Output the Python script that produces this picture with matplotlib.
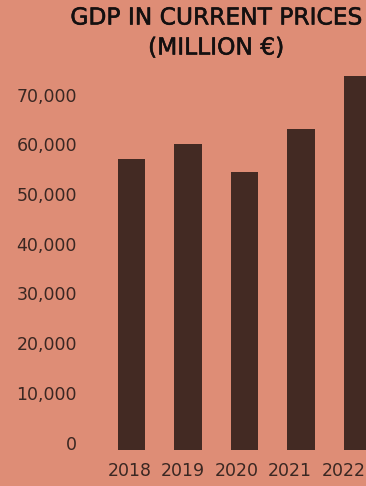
import matplotlib
matplotlib.use("Agg")
import matplotlib.pyplot as plt
import matplotlib.patheffects as pe

years = ["2018", "2019", "2020", "2021", "2022"]
gdp = [58450, 61450, 55850, 64500, 75150]
y_ticks = [0, 10000, 20000, 30000, 40000, 50000, 60000, 70000]

BG = "#de8d76"
BAR = "#432a23"
TXT = "#3a2722"
TITLE = "#141010"

fig = plt.figure(figsize=(3.66, 4.86), dpi=100, facecolor=BG)
ax = fig.add_axes([0.2667, 0.0751, 0.8027, 0.818])
ax.set_facecolor(BG)

x = list(range(len(years)))
ax.bar(x, gdp, width=0.48, color=BAR)

ax.set_xlim(-0.6, 4.6)
ax.set_ylim(0, 80000)
# year labels in the source sit on a slightly tighter spacing than the bars
ax.set_xticks([i * 0.947 - 0.035 for i in x], years)
ax.set_yticks(y_ticks, [f"{v:,}" for v in y_ticks])
for s in ax.spines.values():
    s.set_visible(False)
ax.tick_params(axis="both", length=0, labelsize=12.5, labelcolor=TXT)
ax.tick_params(axis="y", pad=14.8)
ax.tick_params(axis="x", pad=9)
for t in ax.get_yticklabels():
    t.set_verticalalignment("baseline")

bold_fx = [pe.withStroke(linewidth=0.4, foreground=TITLE)]
fig.text(216 / 366, 1 - 18 / 486, "GDP IN CURRENT PRICES", ha="center", va="center",
         fontsize=16.8, color=TITLE, path_effects=bold_fx)
fig.text(216 / 366, 1 - 48 / 486, "(MILLION €)", ha="center", va="center",
         fontsize=16.8, color=TITLE, path_effects=bold_fx)

fig.savefig("out.png", dpi=100, facecolor=BG)
